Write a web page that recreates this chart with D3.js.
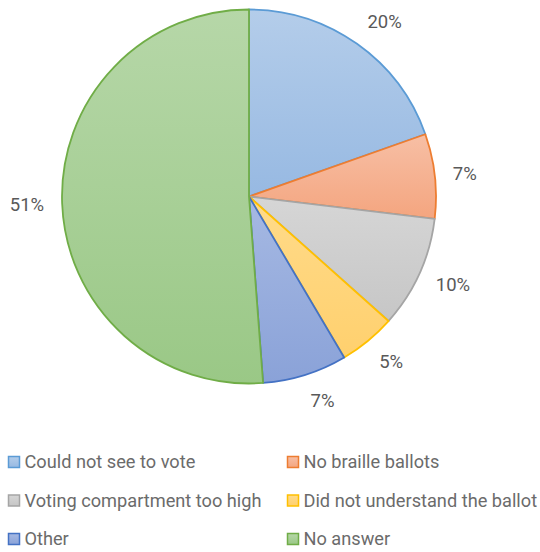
<!DOCTYPE html>
<html>
<head>
<meta charset="utf-8">
<script src="https://cdn.jsdelivr.net/npm/d3@7"></script>
<style>
html,body{margin:0;padding:0;background:#fff;}
svg{display:block;font-family:Roboto,"Noto Sans",sans-serif;}
</style>
</head>
<body>
<svg id="chart" width="540" height="552"></svg>
<script>
const categories = ["Could not see to vote","No braille ballots","Voting compartment too high","Did not understand the ballot","Other","No answer"];
const values = [19.6, 7.3, 9.7, 4.9, 7.3, 51.2];
const strokeColors = ["#5B9BD5","#ED7D31","#A5A5A5","#FFC000","#4472C4","#70AD47"];
const fillTop = ["#B4CDEA","#F7BFA5","#D6D6D6","#FFDB8A","#A6B9E3","#B6D7A8"];
const fillBottom = ["#97B9E2","#F4A57F","#C6C6C6","#FFD06E","#8AA2D8","#9AC886"];

const svg = d3.select("#chart");
const cx = 249, cy = 196.5, R = 187;
const total = d3.sum(values);
const fmt = d3.format(".0%");

const defs = svg.append("defs");
categories.forEach((c,i)=>{
  const g = defs.append("linearGradient").attr("id","grad"+i)
    .attr("x1",0).attr("y1",0).attr("x2",0).attr("y2",1);
  g.append("stop").attr("offset","0%").attr("stop-color",fillTop[i]);
  g.append("stop").attr("offset","100%").attr("stop-color",fillBottom[i]);
});

const pie = d3.pie().sort(null).value(d=>d.v);
const arcs = pie(values.map((v,i)=>({v,i})));
const arc = d3.arc().innerRadius(0).outerRadius(R);

const g = svg.append("g").attr("transform",`translate(${cx},${cy})`);
g.selectAll("path.slice").data(arcs).join("path")
  .attr("class","slice")
  .attr("d",arc)
  .attr("fill",d=>`url(#grad${d.data.i})`)
  .attr("stroke",d=>strokeColors[d.data.i])
  .attr("stroke-width",1.8)
  .attr("stroke-linejoin","round");

// outside-end labels: anchor point just outside the rim, box pushed outward
const labelR = R + 18, hh = 9;
g.selectAll("text.lbl").data(arcs).join("text")
  .attr("class","lbl")
  .attr("font-size",18.5)
  .attr("fill","#595959")
  .attr("dy","0.35em")
  .text(d=>fmt(d.data.v/total))
  .each(function(d){
    const a = (d.startAngle+d.endAngle)/2;
    const s = Math.sin(a), c = Math.cos(a);
    const px = labelR*s, py = -labelR*c - hh*c;
    d3.select(this)
      .attr("x",px)
      .attr("y",py)
      .attr("text-anchor", s >= 0 ? "start" : "end");
  });

// legend
const colX = [8.5, 287.5];
const rowY = [462, 500.5, 539];
const leg = svg.append("g");
categories.forEach((c,i)=>{
  const x = colX[i%2], y = rowY[Math.floor(i/2)];
  leg.append("rect").attr("x",x).attr("y",y-5.5).attr("width",11).attr("height",11)
    .attr("fill",`url(#grad${i})`).attr("stroke",strokeColors[i]).attr("stroke-width",1.5);
  leg.append("text").attr("x",x+16).attr("y",y).attr("dy","0.35em")
    .attr("font-size",18.2).attr("fill","#6b6b6b").text(c);
});
</script>
</body>
</html>
